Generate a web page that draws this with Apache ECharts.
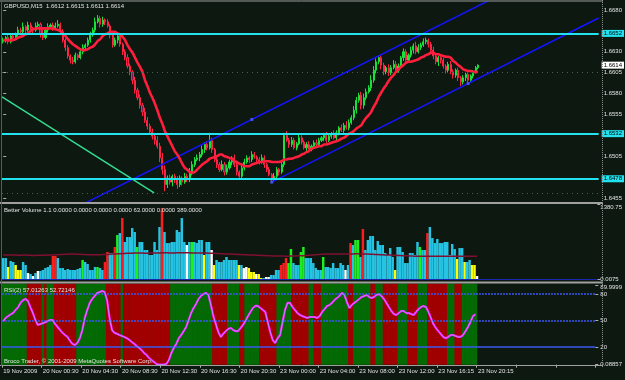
<!DOCTYPE html>
<html><head><meta charset="utf-8">
<script src="https://cdn.jsdelivr.net/npm/echarts@6/dist/echarts.min.js"></script>
<style>html,body{margin:0;padding:0;background:#0c1810;}#c{width:625px;height:380px;}</style>
</head><body><div id="c"></div><script>
// ---------- DATA ----------
const titleText = 'GBPUSD,M15  1.6612 1.6615 1.6611 1.6614';
const volTitle = 'Better Volume 1.1 0.0000 0.0000 0.0000 0.0000 63.0000 0.0000 389.0000';
const rsiTitle = 'RSI(2) 57.01263 52.72146';
const copyright = 'Broco Trader, \u00a9 2001-2009 MetaQuotes Software Corp.';
const tickLabels = ['19 Nov 2009','20 Nov 00:30','20 Nov 04:30','20 Nov 08:30','20 Nov 12:30','20 Nov 16:30','20 Nov 20:30','23 Nov 00:00','23 Nov 04:00','23 Nov 08:00','23 Nov 12:00','23 Nov 16:15','23 Nov 20:15'];
const priceTicks = [1.6680,1.6630,1.6605,1.6580,1.6555,1.6505,1.6455];
const levelLines = [1.6652,1.6532,1.6478];
const lastPrice = 1.6614;
const gridLevels = [1.6606,1.6533,1.6461];
const rsiLevels = [80,50,20];
const rsiTicks = [0.08857,20,50,80,89.9999];
const volTicks = [0.0075,1380.75];
const firstOpen = 16642;
// closes in 0.0001 units
const closes = [
16644,16647,16642,16649,16647,16651,16656,16654,16660,16656,
16662,16658,16656,16661,16663,16652,16647,16656,16660,16662,
16658,16661,16663,16654,16644,16635,16625,16620,16618,16626,
16623,16630,16635,16638,16644,16650,16656,16666,16670,16663,
16668,16666,16661,16650,16638,16644,16649,16639,16630,16623,
16613,16606,16596,16584,16575,16566,16558,16548,16541,16534,
16529,16524,16517,16503,16489,16471,16479,16474,16481,16477,
16471,16479,16474,16481,16477,16486,16495,16501,16503,16507,
16513,16519,16515,16524,16513,16501,16495,16489,16495,16486,
16491,16498,16503,16495,16486,16481,16491,16498,16503,16501,
16507,16504,16501,16498,16503,16495,16489,16483,16477,16481,
16489,16486,16495,16530,16524,16519,16524,16515,16520,16527,
16522,16515,16519,16513,16517,16521,16519,16524,16527,16530,
16524,16529,16532,16527,16533,16539,16536,16542,16539,16545,
16551,16560,16572,16578,16566,16575,16582,16587,16596,16608,
16618,16623,16614,16606,16611,16605,16611,16615,16608,16613,
16623,16630,16620,16626,16632,16637,16630,16635,16638,16642,
16644,16639,16632,16625,16618,16623,16620,16613,16608,16615,
16606,16602,16608,16599,16594,16599,16603,16596,16601,16606,
16611,16614];
const upWick = [
3,2,4,2,3,2,4,3,5,2, 4,3,2,4,3,2,5,3,4,2, 3,4,5,2,3,2,3,2,4,3, 2,3,4,2,3,4,3,5,4,3,
4,2,3,2,4,3,2,3,2,3, 4,3,2,4,3,4,3,5,4,3, 4,3,5,4,6,5,3,4,2,3, 4,3,2,4,3,5,4,3,4,3,
5,3,4,9,3,2,4,3,5,3, 4,3,2,4,3,2,5,4,3,2, 4,3,2,3,4,3,2,3,2,4, 3,2,4,3,5,3,4,3,2,4,
3,2,3,4,2,3,4,3,2,3, 4,3,2,4,3,2,4,3,5,4, 3,5,4,3,4,5,4,3,6,5, 4,3,4,3,2,4,3,5,4,3,
2,4,3,2,4,3,5,4,3,4, 3,2,3,4,3,2,4,3,2,3, 4,3,2,3,2,3,2,3,2,2, 2,1];
const loWick = [
2,3,3,2,4,2,3,2,3,4, 2,3,4,2,3,5,3,2,3,2, 3,2,2,4,3,4,3,4,3,2, 3,2,3,4,2,3,2,3,2,4,
3,4,2,4,3,2,4,3,4,3, 3,4,5,4,3,4,5,3,4,3, 4,5,3,5,6,8,4,3,5,4, 5,3,4,2,3,3,4,3,2,4,
3,4,3,2,4,3,4,3,2,4, 3,2,4,3,4,3,2,3,2,4, 3,2,4,3,2,4,3,2,3,2, 3,4,2,3,2,4,3,2,3,2,
3,2,4,3,2,3,2,3,2,4, 3,2,3,2,4,3,2,3,2,3, 2,3,4,3,5,4,3,2,4,3, 4,3,5,4,3,4,3,2,4,3,
3,4,3,2,3,4,3,2,3,2, 3,4,3,4,3,5,4,3,4,3, 3,4,3,4,5,3,4,3,2,3, 2,2];
const maValues = [
16644,16644,16644,16644,16644,16645,16647,16648,16649,16651,
16652,16655,16657,16658,16658,16658,16658,16658,16658,16658,
16658,16657,16656,16655,16652,16649,16645,16642,16639,16637,
16635,16633,16632,16632,16633,16635,16636,16639,16643,16645,
16649,16651,16652,16654,16654,16654,16652,16651,16648,16644,
16638,16633,16629,16623,16617,16612,16606,16596,16589,16581,
16575,16568,16560,16551,16544,16535,16529,16523,16517,16511,
16507,16502,16496,16491,16489,16486,16485,16486,16489,16492,
16495,16497,16499,16502,16503,16504,16505,16507,16507,16505,
16504,16503,16502,16499,16498,16496,16495,16493,16493,16493,
16495,16496,16497,16498,16498,16499,16499,16499,16498,16498,
16498,16498,16499,16501,16501,16502,16502,16503,16504,16505,
16507,16508,16510,16511,16514,16515,16516,16517,16517,16519,
16519,16520,16521,16522,16523,16524,16526,16527,16529,16532,
16533,16535,16538,16540,16542,16547,16551,16554,16558,16564,
16569,16576,16581,16586,16590,16595,16599,16602,16606,16609,
16612,16614,16617,16618,16618,16619,16620,16621,16623,16624,
16626,16627,16629,16629,16627,16627,16626,16625,16624,16624,
16623,16619,16617,16614,16612,16609,16608,16607,16607,16606,
16606,16606];
const volumes = [
386,386,221,331,313,258,166,166,313,258, 110,92,55,110,147,147,166,202,221,258,
423,423,386,202,202,166,184,166,166,166, 184,202,350,313,276,166,166,221,221,202,
166,313,497,478,478,589,810,846,1122,681, 773,773,938,865,589,681,681,534,534,442,
442,681,534,957,1306,865,662,662,681,681, 902,865,1122,681,626,681,681,681,662,718,
718,442,681,681,534,258,350,313,313,350, 405,350,350,350,350,258,258,202,221,202,
129,129,92,92,18,18,37,37,74,74, 166,166,258,294,386,294,552,294,258,258,
497,589,386,386,386,294,202,166,166,405, 221,221,202,294,202,202,294,258,166,258,
662,626,718,718,405,920,534,718,791,791, 534,699,626,626,478,442,570,405,166,589,
589,497,294,294,478,478,442,681,589,534, 534,846,957,754,662,736,662,662,681,681,
442,644,552,368,570,570,313,313,350,258, 258,55];
const volColors =
'CCYCCYYYCC'+'WCWCWCCCCC'+'RRCCCCCCCC'+'CCGCCCCCGC'+'CRRCCRGCRC'+'CCCCGCCCCC'+
'CCCCRCCCCC'+'CCCCWCGCCC'+'CYCCWYCCCC'+'CCCCCYCWWY'+'YYWYYCWWCC'+'CCRRRGGCCC'+
'GGCCCCCCCG'+'CCCCCCCCWC'+'RCGGCRCCCC'+'CCCCCCCCYC'+'CCCCCCCCGC'+'CRCCCCCCCC'+
'CCCYCCYCCY'+'YW';
const volAvg = [
440,440,441,441,440,440,439,439,440,440, 438,436,434,434,435,436,437,438,440,441,
443,445,447,450,452,454,456,458,458,458, 456,454,452,450,448,447,446,446,447,448,
449,450,452,455,458,461,464,466,468,470, 472,474,476,478,478,478,477,476,476,477,
478,478,479,480,482,482,481,480,480,480, 481,482,483,483,482,481,480,479,479,480,
480,479,478,476,474,472,470,468,466,464, 462,460,458,456,454,452,450,448,446,444,
442,440,438,436,434,432,430,428,426,425, 424,423,422,422,421,421,422,423,424,426,
428,430,433,436,440,444,448,452,455,457, 458,459,460,460,460,460,460,460,460,460,
461,462,463,463,462,461,460,458,456,454, 452,450,448,446,444,442,440,438,436,434,
432,430,428,426,424,422,421,420,420,420, 420,420,420,420,420,420,420,420,420,420,
420,420,420,420,420,420,420,420,420,420, 420,420];
const rsiValues = [
49.5,52.9,55,57,58.5,62,65,70,73,74.5, 72,65,58.5,50.6,45,46,47,48,49.5,50.6,
50.6,46,42.7,39.3,36,33.6,31.4,27,23.5,22.3, 24.6,30,39.3,53,62,70,74.5,77.8,81.2,82.3,
83.5,82.3,73.3,53,39.3,36,35,33.6,32.5,31.4, 30,28,25.7,23.5,21,19,16.5,13.2,11,7.6,
5.3,3.1,0.8,0.1,0.09,0.2,0.8,5.3,13.2,19, 23.5,30,33.6,38,42.7,50.6,58.5,64.2,68.7,74.5,
77.8,80,81.2,79,67.6,55,46,37,31.4,35, 38,40.4,41.6,39.3,38,38,41.6,45,49.5,55,
59.7,64.2,66.5,66.5,64.2,62,59.7,48.4,37,28, 24.6,30,33.6,48.4,62,70,70,65.3,62,58.5,
56.3,55,54,52.9,54,54,54,52.9,55,59.7, 63,66.5,67.6,70,73.3,75.5,77.8,81.2,79,71,
64.2,67.6,70,72.1,74.4,76.7,77.8,78.9,76.7,75.5, 76.7,78.9,80,77.8,74.4,70,65.3,60.8,57.4,56.3,
58.5,60.8,60.8,58.5,58.5,57.4,56.3,59.7,63,65.3, 66.5,65.3,59.7,52.9,46,41.6,38,34.7,31.4,30,
31.4,33.6,33.6,32.5,31.4,31.4,33.6,38,42.7,48.4, 55,57.01];
// RSI background state runs: [state, bar count]
const bandRuns = [['G',10],['R',6],['G',1],['R',1],['G',3],['R',9],['G',12],['R',6],['G',1],['R',19],
['G',17],['R',6],['G',5],['R',2],['G',6],['R',7],['G',6],['R',7],['G',2],['R',3],['G',11],['R',2],
['G',7],['R',2],['G',3],['R',6],['G',4],['R',4],['G',4],['R',8],['G',3],['R',3],['G',6]];
// trend line anchors: [bar index, price]
const channelBase = [[108,1.6474],[187,1.6592]];
const channelParallel = [100,1.6549];
const mintLine = [[-0.5,1.6576],[60.7,1.6461]];
const NCAT = 240;

// ---------- BUILD ----------
const cats = Array.from({length:NCAT},(_,i)=>String(i));
const candleData = closes.map((c,i)=>{
  const o = i===0 ? firstOpen : closes[i-1];
  const hi = Math.max(o,c)+upWick[i], lo = Math.min(o,c)-loWick[i];
  return [o/1e4, c/1e4, lo/1e4, hi/1e4];
});
const maData = maValues.map(v=>v/1e4);
const colMap = {C:'#26c3e3',Y:'#ffff00',W:'#ffffff',R:'#ff1c1c',G:'#1cf01c'};
const volData = volumes.map((v,i)=>({value:v,itemStyle:{color:colMap[volColors[i]]}}));
const bandData = [];
bandRuns.forEach(([s,n])=>{for(let k=0;k<n;k++) bandData.push([bandData.length, s==='R'?1:0]);});
const slope = (channelBase[1][1]-channelBase[0][1])/(channelBase[1][0]-channelBase[0][0]);
const xEnd = NCAT-0.5, xStart = -0.5;
const lowerRay = [[channelBase[0][0],channelBase[0][1]],[xEnd, channelBase[0][1]+slope*(xEnd-channelBase[0][0])]];
const upperRay = [[xStart, channelParallel[1]+slope*(xStart-channelParallel[0])],[xEnd, channelParallel[1]+slope*(xEnd-channelParallel[0])]];
const anchors = [channelBase[0], channelBase[1], channelParallel];

const FONT = 'Liberation Sans';
const TXT = '#e4e4e4';
const BLUE = '#1414ff';
const CYAN = '#22e2f0';

const boxLabel = (v, bg) => ({show:true,position:'end',distance:3,formatter:v.toFixed(4),backgroundColor:bg,color:'#000',fontSize:6,fontFamily:FONT,padding:[1,2,0,2]});
const lvlLine = v => ({yAxis:v, lineStyle:{color:CYAN,width:2,type:'solid'}, label:boxLabel(v, CYAN)});

const option = {
  backgroundColor:'#0c1810',
  animation:false,
  grid:[
    {left:2, top:2, width:600, height:200},
    {left:2, top:204, width:600, height:75},
    {left:2, top:285.2, width:600, height:79.5}
  ],
  xAxis:[
    {type:'category', gridIndex:0, data:cats, show:false},
    {type:'category', gridIndex:1, data:cats, show:false},
    {type:'category', gridIndex:2, data:cats,
      axisLine:{show:false},
      axisTick:{show:true, interval:(i)=>i%16===0, length:3, lineStyle:{color:'#b0b0b0'}},
      axisLabel:{interval:(i)=>i%16===0, formatter:(v)=>tickLabels[Number(v)/16]||'', align:'left',
        color:TXT, fontSize:6, fontFamily:FONT, margin:4},
      splitLine:{show:false}},
    {type:'value', gridIndex:0, min:-0.5, max:NCAT-0.5, show:false}
  ],
  yAxis:[
    {gridIndex:0, position:'right', min:1.64502, max:1.66896, splitLine:{show:false}, axisLine:{show:false},
      axisTick:{show:true, customValues:priceTicks, length:3, lineStyle:{color:'#b0b0b0'}},
      axisLabel:{customValues:priceTicks, formatter:(v)=>v.toFixed(4), color:TXT, fontSize:6, fontFamily:FONT, margin:5}},
    {gridIndex:1, position:'right', min:0.0075, max:1380.75, splitLine:{show:false}, axisLine:{show:false},
      axisTick:{show:true, customValues:volTicks, length:3, lineStyle:{color:'#b0b0b0'}},
      axisLabel:{customValues:volTicks, formatter:(v)=> v>1000 ? '{t|1380.75}' : '0.0075', color:TXT, fontSize:6, fontFamily:FONT, margin:3,
        rich:{t:{padding:[6,0,0,0], color:TXT, fontSize:6, fontFamily:FONT}}}},
    {gridIndex:2, position:'right', min:0, max:90, splitLine:{show:false}, axisLine:{show:false},
      axisTick:{show:true, customValues:rsiTicks, length:3, lineStyle:{color:'#b0b0b0'}},
      axisLabel:{customValues:rsiTicks, formatter:(v)=> v>89 ? '{t|89.9999}' : (v<1 ? '0.08857' : String(v)), color:TXT, fontSize:6, fontFamily:FONT, margin:5,
        rich:{t:{padding:[5,0,0,0], color:TXT, fontSize:6, fontFamily:FONT}}}}
  ],
  series:[
    {type:'candlestick', xAxisIndex:0, yAxisIndex:0, data:candleData, barWidth:1.6, z:2,
      itemStyle:{color:'#18e23a', color0:'#7a1650', borderColor:'#18e23a', borderColor0:'#ff2446', borderWidth:1}},
    {type:'line', xAxisIndex:0, yAxisIndex:0, data:maData, symbol:'none', z:4, lineStyle:{color:'#ff1e3c', width:2.6},
      markLine:{silent:true, symbol:'none', animation:false, precision:4,
        data:[
          ...gridLevels.map(v=>({yAxis:v, lineStyle:{color:'#4d5e4d',width:1,type:[1,4]}, label:{show:false}})),
          ...levelLines.map(lvlLine),
          {yAxis:lastPrice, lineStyle:{color:'rgba(0,0,0,0)', width:0.01}, label:boxLabel(lastPrice, '#ffffff')}
        ]}},
    {type:'line', xAxisIndex:3, yAxisIndex:0, data:upperRay, symbol:'none', z:3, lineStyle:{color:BLUE, width:1.5}},
    {type:'line', xAxisIndex:3, yAxisIndex:0, data:lowerRay, symbol:'none', z:3, lineStyle:{color:BLUE, width:1.5}},
    {type:'line', xAxisIndex:3, yAxisIndex:0, data:mintLine, symbol:'none', z:3, lineStyle:{color:'#34dc92', width:1.5}},
    {type:'scatter', xAxisIndex:3, yAxisIndex:0, data:anchors, symbol:'rect', symbolSize:3, z:5, itemStyle:{color:'#5060ff'}},
    {type:'bar', xAxisIndex:1, yAxisIndex:1, data:volData, barCategoryGap:'0%', barGap:'0%',
      markLine:{silent:true, symbol:'none', data:[{yAxis:0.0075, lineStyle:{color:'#1a28b0',width:1,type:'solid'}, label:{show:false}}]}},
    {type:'line', xAxisIndex:1, yAxisIndex:1, data:volAvg, symbol:'none', lineStyle:{color:'#7e1030', width:1.5}},
    {type:'custom', xAxisIndex:2, yAxisIndex:2, data:bandData, z:1, clip:false,
      renderItem:(params, api)=>{
        const i = api.value(0), s = api.value(1);
        const p0 = api.coord([i, 90]), p1 = api.coord([i, 0]);
        const w = api.size([1,0])[0];
        return {type:'rect', shape:{x:p0[0]-w/2, y:p0[1]-1.5, width:w+0.6, height:p1[1]-p0[1]+1.5},
          style:{fill: s ? '#a00000' : '#046a04'}};
      }},
    {type:'line', xAxisIndex:2, yAxisIndex:2, data:rsiValues, symbol:'none', z:4, lineStyle:{color:'#ff10ff', width:2.2},
      markLine:{silent:true, symbol:'none', data:rsiLevels.map(v=>({yAxis:v, lineStyle:{color:'#3a58f0', width:1.5, type: v===20?'solid':[2,1]}, label:{show:false}}))}},
    {type:'line', xAxisIndex:2, yAxisIndex:2, data:rsiValues, symbol:'none', z:5, lineStyle:{color:'#a8a8ff', width:0.8}}
  ],
  graphic:[
    {type:'line', z:50, shape:{x1:0,y1:1,x2:603,y2:1}, style:{stroke:'#9a9a9a', lineWidth:1}},
    {type:'rect', z:50, shape:{x:0,y:202,width:603,height:2}, style:{fill:'#a0a0a0'}},
    {type:'rect', z:50, shape:{x:0,y:281.5,width:603,height:2}, style:{fill:'#a0a0a0'}},
    {type:'line', z:50, shape:{x1:0,y1:365.5,x2:603,y2:365.5}, style:{stroke:'#a0a0a0', lineWidth:1}},
    {type:'line', z:50, shape:{x1:602.5,y1:0,x2:602.5,y2:368}, style:{stroke:'#909090', lineWidth:1, lineDash:[1,1]}},
    {type:'line', z:50, shape:{x1:1.5,y1:0,x2:1.5,y2:366}, style:{stroke:'#5a5a5a', lineWidth:1}},
    {type:'text', z:60, x:4, y:6, style:{text:titleText, fill:TXT, font:'6px "Liberation Sans"', verticalAlign:'middle'}},
    {type:'text', z:60, x:4, y:210, style:{text:volTitle, fill:TXT, font:'6px "Liberation Sans"', verticalAlign:'middle'}},
    {type:'text', z:60, x:4, y:290, style:{text:rsiTitle, fill:TXT, font:'6px "Liberation Sans"', verticalAlign:'middle'}},
    {type:'text', z:60, x:4, y:361.5, style:{text:copyright, fill:TXT, font:'6px "Liberation Sans"', verticalAlign:'middle'}}
  ]
};
const chart = echarts.init(document.getElementById('c'), null, {renderer:'canvas'});
chart.setOption(option);
</script></body></html>
